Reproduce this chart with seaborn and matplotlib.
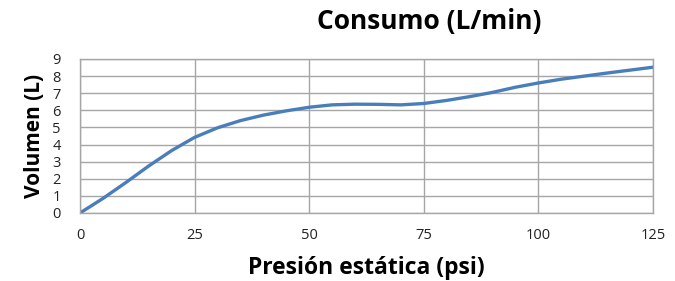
import matplotlib
matplotlib.use("Agg")
import matplotlib.pyplot as plt
import seaborn as sns
import pandas as pd

presion = [0, 5, 10, 15, 20, 25, 30, 35, 40, 45, 50, 55, 60, 65, 70, 75, 80, 85, 90, 95, 100, 105, 110, 115, 120, 125]
volumen = [0.0, 0.85, 1.78, 2.75, 3.65, 4.42, 4.98, 5.4, 5.72, 5.97, 6.18, 6.32, 6.36, 6.35, 6.32, 6.4, 6.58, 6.8, 7.05, 7.35, 7.6, 7.82, 8.0, 8.18, 8.35, 8.52]
xticks = [0, 25, 50, 75, 100, 125]
yticks = list(range(0, 10))

df = pd.DataFrame({"Presion": presion, "Volumen": volumen})

sns.set_style("white")
plt.rcParams['font.family'] = ['Open Sans', 'DejaVu Sans']

fig = plt.figure(figsize=(6.75, 2.81), dpi=100)
ax = fig.add_axes([80/675, 1-213/281, (653-80)/675, (213-59)/281])
sns.lineplot(data=df, x="Presion", y="Volumen", ax=ax, color="#4a7ebb", linewidth=2.4)
ax.set_xlim(0, 125)
ax.set_ylim(0, 9)
ax.set_xticks(xticks)
ax.set_yticks(yticks)
ax.grid(True, color="#a6a6a6", linewidth=1.0)
for s in ax.spines.values():
    s.set_color("#a6a6a6")
    s.set_linewidth(1.0)
ax.tick_params(axis="both", length=0, labelsize=10.5, colors="#222222")
ax.tick_params(axis="x", pad=11)
ax.tick_params(axis="y", pad=14)
ax.set_xlabel("Presión estática (psi)", fontsize=16.5, fontweight="bold", color="black")
ax.set_ylabel("Volumen (L)", fontsize=15, fontweight="bold", color="black")
ax.xaxis.set_label_coords(0.5, -(268-213)/154, transform=ax.transAxes)
ax.xaxis.label.set_va("center")
ax.yaxis.set_label_coords(-(80-35)/573, 0.5, transform=ax.transAxes)
ax.yaxis.label.set_va("center")
fig.text(429/675, 1-22/281, "Consumo (L/min)", ha="center", va="center", fontsize=19, fontweight="bold", color="black")
fig.savefig("out.png", dpi=100)
